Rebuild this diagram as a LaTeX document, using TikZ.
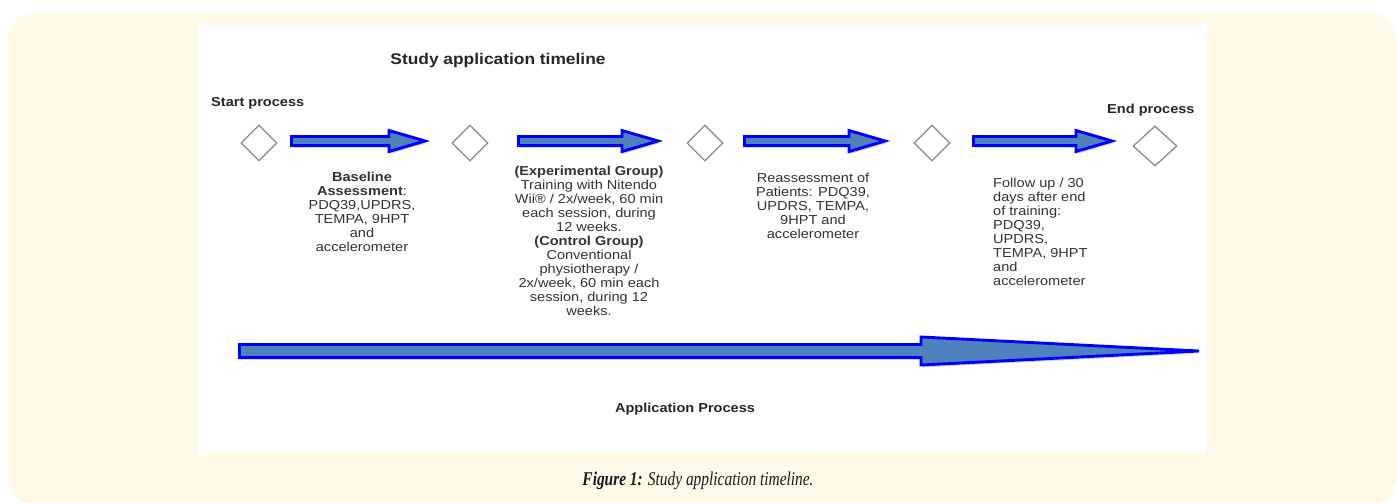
\documentclass[tikz,border=0pt]{standalone}
\usepackage{fontspec}
\setmainfont[FakeStretch=1.12]{Liberation Sans}
\newfontfamily\capfont[FakeStretch=0.79]{Liberation Serif}
\usetikzlibrary{shapes.geometric}
\definecolor{cream}{HTML}{FFFAE8}
\definecolor{arrfill}{HTML}{4F81BD}
\definecolor{arredge}{HTML}{0000FF}
\definecolor{txt}{HTML}{333333}
\definecolor{dgray}{HTML}{8A8A8A}
\newcommand{\tlarrow}[6]{% left, tip, y, shaft half, head half, head length
  \fill[black!30, opacity=0.55, shift={(1.2,2.4)}]
    ({#1},{#3-#4}) -- ({#2-#6},{#3-#4}) -- ({#2-#6},{#3-#5}) -- ({#2},{#3})
    -- ({#2-#6},{#3+#5}) -- ({#2-#6},{#3+#4}) -- ({#1},{#3+#4}) -- cycle;
  \filldraw[arrowsty]
    ({#1},{#3-#4}) -- ({#2-#6},{#3-#4}) -- ({#2-#6},{#3-#5}) -- ({#2},{#3})
    -- ({#2-#6},{#3+#5}) -- ({#2-#6},{#3+#4}) -- ({#1},{#3+#4}) -- cycle;
}
\begin{document}
\begin{tikzpicture}[x=1pt,y=-1pt,
  arrowsty/.style={fill=arrfill, draw=arredge, line width=2.9pt},
  diam/.style={diamond, draw=dgray, line width=1.3pt, fill=white,
    minimum width=36pt, minimum height=36pt, inner sep=0pt},
  body/.style={text=txt, font=\fontsize{13}{14}\selectfont, align=center, inner sep=0pt},
  hdr/.style={text=black!85, font=\bfseries\fontsize{13}{14}\selectfont, inner sep=0pt}]
\useasboundingbox (0,0) rectangle (1397,503);
\fill[cream, rounded corners=28pt] (8,12) rectangle (1397,505);
\fill[white] (198,25) rectangle (1206,453);

\node[hdr, font=\bfseries\fontsize{15.5}{17}\selectfont] (title) at (498,60) {Study application timeline};
\node[hdr, anchor=west] (start) at (211,103) {Start process};
\node[hdr, anchor=west] (end) at (1107,110) {End process};

\node[diam] (d1) at (259,143) {};
\node[diam] (d2) at (470,143) {};
\node[diam] (d3) at (705,143) {};
\node[diam] (d4) at (932,143) {};
\node[diam, minimum width=44pt, minimum height=40pt] (d5) at (1155,146) {};

\tlarrow{291.5}{425}{141}{4.5}{10.5}{36}
\tlarrow{518.5}{658}{141}{4.5}{10.5}{36}
\tlarrow{744.5}{885}{141}{4.5}{10.5}{36}
\tlarrow{973.5}{1112}{141}{4.5}{10.5}{36}
\tlarrow{239.5}{1199}{351}{6.5}{14}{278}

\node[body, anchor=north] (t1) at (362,172) {\textbf{Baseline}\\\textbf{Assessment}:\\PDQ39,UPDRS,\\TEMPA, 9HPT\\and\\accelerometer};
\node[body, anchor=north] (t2) at (589,166) {\textbf{(Experimental Group)}\\Training with Nitendo\\Wii® / 2x/week, 60 min\\each session, during\\12 weeks.\\\textbf{(Control Group)}\\Conventional\\physiotherapy /\\2x/week, 60 min each\\session, during 12\\weeks.};
\node[body, anchor=north] (t3) at (813,173) {Reassessment of\\Patients: PDQ39,\\UPDRS, TEMPA,\\9HPT and\\accelerometer};
\node[body, anchor=north west, align=left] (t4) at (993,178) {Follow up / 30\\days after end\\of training:\\PDQ39,\\UPDRS,\\TEMPA, 9HPT\\and\\accelerometer};

\node[hdr] (app) at (685,409) {Application Process};

\node[text=black!90, font=\capfont\fontsize{19.5}{22}\selectfont, inner sep=0pt] (cap) at (698,481)
  {\textbf{\textit{Figure 1:}} \textit{Study application timeline.}};
\end{tikzpicture}
\end{document}
